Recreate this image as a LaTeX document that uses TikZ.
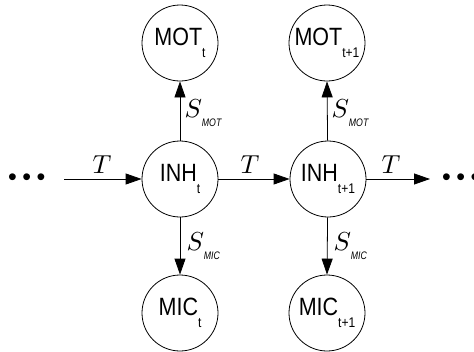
\documentclass[tikz,border=0pt]{standalone}
\usepackage{fontspec}
\setmainfont{Liberation Sans}
\usetikzlibrary{arrows.meta}
\tikzset{
  state/.style={circle, draw, line width=0.8pt, minimum size=76pt, inner sep=0pt},
  flow/.style={line width=0.8pt, -{Triangle[length=16pt,width=11pt]}},
  mlbl/.style={inner sep=0pt, anchor=base west, scale=2.6},
  dots/.style={inner sep=0pt, font=\fontsize{25}{25}\selectfont},
}
\newcommand{\nlab}[2]{\scalebox{0.86}[1]{{\fontsize{25}{25}\selectfont #1}\raisebox{-12pt}{\fontsize{14}{14}\selectfont #2}}}
\newcommand{\slab}[1]{$S$\raisebox{-3.8pt}{\scalebox{0.8}[1]{\fontsize{4.2}{4.2}\selectfont\itshape #1}}}
\newcommand{\bdots}{•\kern5.5pt•\kern5.5pt•}
\begin{document}
\begin{tikzpicture}[x=1pt,y=-1pt]
\useasboundingbox (0,0) rectangle (474,351);
\node[state] (inh1) at (180,179) {\nlab{INH}{t}};
\node[state] (inh2) at (328,179) {\nlab{INH}{t+1}};
\node[state] (mot1) at (180,43) {\nlab{MOT}{t}};
\node[state] (mot2) at (327,43) {\nlab{MOT}{t+1}};
\node[state] (mic1) at (180,313) {\nlab{MIC}{t}};
\node[state] (mic2) at (327,313) {\nlab{MIC}{t+1}};
\coordinate (lin) at (64,179);
\coordinate (rout) at (430,179);
\node[dots, anchor=west] (ldots) at (8,180) {\bdots};
\node[dots, anchor=west] (rdots) at (442,180) {\bdots};
\draw[flow] (lin) -- (inh1);
\draw[flow] (inh1) -- (inh2);
\draw[flow] (inh2) -- (rout);
\draw[flow] (inh1) -- (mot1);
\draw[flow] (inh2) -- (mot2.south);
\draw[flow] (inh1) -- (mic1);
\draw[flow] (inh2) -- (mic2.north);
\node[mlbl] (t1) at (92,173) {$T$};
\node[mlbl] (t2) at (240,173) {$T$};
\node[mlbl] (t3) at (381,173) {$T$};
\node[mlbl] (s1) at (184,117) {\slab{MOT}};
\node[mlbl] (s2) at (331,117) {\slab{MOT}};
\node[mlbl] (s3) at (186,250) {\slab{MIC}};
\node[mlbl] (s4) at (333,250) {\slab{MIC}};
\end{tikzpicture}
\end{document}
